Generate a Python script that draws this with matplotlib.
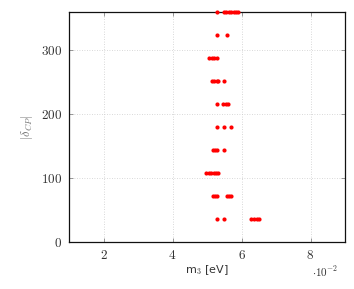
import matplotlib
matplotlib.use("Agg")
import matplotlib.pyplot as plt

plt.rcParams['mathtext.fontset'] = 'cm'

# data: m3 in units of 1e-2 eV, delta_CP in degrees
delta_rows = [36, 72, 108, 144, 180, 216, 252, 288, 324, 360]
m3_rows = [
    [5.30, 5.49, 6.28, 6.36, 6.44, 6.52],
    [5.16, 5.22, 5.30, 5.58, 5.64, 5.71],
    [4.98, 5.05, 5.12, 5.20, 5.27, 5.33],
    [5.16, 5.22, 5.29, 5.49],
    [5.30, 5.49, 5.70],
    [5.28, 5.47, 5.54, 5.61],
    [5.14, 5.21, 5.28, 5.33, 5.50],
    [5.07, 5.14, 5.21, 5.29],
    [5.30, 5.59],
    [5.28, 5.49, 5.56, 5.63, 5.70, 5.77, 5.84, 5.91],
]
xticks = [2, 4, 6, 8]
yticks = [0, 100, 200, 300]

fig = plt.figure(figsize=(3.54, 2.89), dpi=100)
ax = fig.add_axes([69/354, 1-242/289, (345-69)/354, (242-12)/289])

for d, xs in zip(delta_rows, m3_rows):
    ax.plot(xs, [d]*len(xs), linestyle='none', marker='o', markersize=3.0,
            color='#ff0000', markeredgewidth=0, clip_on=False, zorder=3)

ax.set_xlim(1, 9)
ax.set_ylim(0, 360)
ax.set_xticks(xticks)
ax.set_yticks(yticks)
ax.set_xticklabels([f'${t}$' for t in xticks])
ax.set_yticklabels([f'${t}$' for t in yticks])
ax.tick_params(direction='in', top=True, right=True, length=3, width=0.6,
               color='#888888', labelsize=9.5, labelcolor='#333333', pad=5)
ax.grid(True, linestyle=(0, (1, 2)), color='#cccccc', linewidth=0.6)
ax.set_axisbelow(True)
for s in ax.spines.values():
    s.set_linewidth(0.9)
    s.set_color('#111111')

ax.set_xlabel('m$_3$ [eV]', fontsize=8, color='#333333', labelpad=1)
ax.set_ylabel(r'$|\delta_{CP}|$', fontsize=9, color='#777777', labelpad=4)
fig.text(325/354, 1-272/289, r'$\cdot 10^{-2}$', fontsize=8, color='#333333',
         ha='center', va='center')

fig.savefig('out.png', dpi=100)
